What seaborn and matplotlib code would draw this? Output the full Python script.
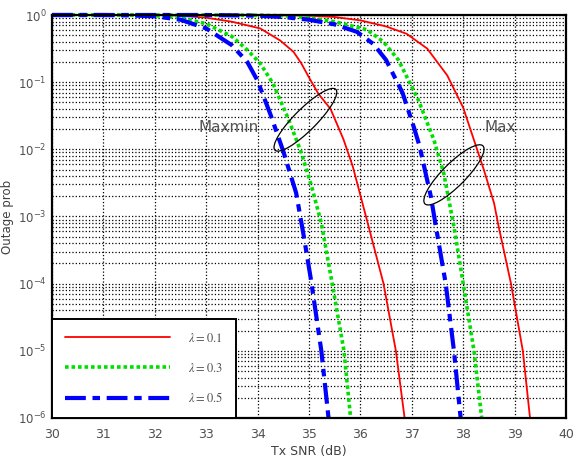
import numpy as np
import pandas as pd
import matplotlib
matplotlib.use("Agg")
import matplotlib.pyplot as plt
import seaborn as sns
from matplotlib.patches import Ellipse
from matplotlib.lines import Line2D
from matplotlib.ticker import FixedLocator, FuncFormatter
from matplotlib.transforms import ScaledTranslation

# outage curves: Tx SNR (dB) and log10(outage prob)
snr_maxmin_01 = [30, 32, 32.5, 33, 33.5, 34.05, 34.44, 34.7, 34.85, 35.0, 35.18, 35.42,
                 35.67, 35.85, 36.16, 36.45, 36.69, 36.86]
exp_maxmin_01 = [0, 0, -0.01, -0.04, -0.1, -0.2, -0.38, -0.55, -0.72, -0.93, -1.17, -1.4,
                 -1.85, -2.25, -3.15, -4.0, -5.0, -6.0]

snr_maxmin_03 = [30, 31.5, 32, 32.5, 33, 33.5, 33.8, 34.05, 34.3, 34.6, 34.85, 35.05,
                 35.24, 35.44, 35.68, 35.81]
exp_maxmin_03 = [0, 0, -0.01, -0.04, -0.13, -0.32, -0.52, -0.72, -1.02, -1.55, -2.05, -2.55,
                 -3.1, -3.95, -5.0, -6.0]

snr_maxmin_05 = [30, 31, 31.5, 32, 32.5, 33, 33.5, 33.8, 34.0, 34.25, 34.5, 34.75, 34.9,
                 35.04, 35.24, 35.38]
exp_maxmin_05 = [0, 0, -0.005, -0.02, -0.07, -0.2, -0.45, -0.7, -0.98, -1.48, -2.03, -2.65,
                 -3.3, -3.95, -5.0, -6.0]

snr_max_01 = [30, 34, 35, 35.5, 36, 36.5, 36.9, 37.3, 37.69, 38.0, 38.2, 38.4, 38.6, 38.69,
              38.93, 39.16, 39.3]
exp_max_01 = [0, 0, -0.01, -0.03, -0.08, -0.17, -0.28, -0.5, -0.9, -1.38, -1.84, -2.3, -2.8,
              -3.15, -4.0, -5.0, -6.0]

snr_max_03 = [30, 33.5, 34.5, 35, 35.5, 36.13, 36.45, 36.74, 37.13, 37.43, 37.62, 37.82,
              38.0, 38.21, 38.36]
exp_max_03 = [0, 0, -0.01, -0.04, -0.1, -0.22, -0.4, -0.67, -1.27, -1.86, -2.35, -3.15,
              -4.0, -5.0, -6.0]

snr_max_05 = [30, 33, 34, 34.5, 35, 35.5, 35.93, 36.25, 36.5, 36.82, 37.04, 37.15, 37.37,
              37.48, 37.66, 37.82, 37.95]
exp_max_05 = [0, 0, -0.01, -0.03, -0.07, -0.14, -0.25, -0.43, -0.67, -1.16, -1.67, -1.95,
              -2.7, -3.2, -4.0, -5.0, -6.0]

lambdas = [0.1, 0.3, 0.5]
legend_labels = [r"$\lambda = 0.1$", r"$\lambda = 0.3$", r"$\lambda = 0.5$"]
y_decades = [0, -1, -2, -3, -4, -5, -6]

curves = [
    ("Maxmin", 0.1, snr_maxmin_01, exp_maxmin_01),
    ("Maxmin", 0.3, snr_maxmin_03, exp_maxmin_03),
    ("Maxmin", 0.5, snr_maxmin_05, exp_maxmin_05),
    ("Max", 0.1, snr_max_01, exp_max_01),
    ("Max", 0.3, snr_max_03, exp_max_03),
    ("Max", 0.5, snr_max_05, exp_max_05),
]
frames = []
for scheme, lam, snr, ex in curves:
    frames.append(pd.DataFrame({"snr": snr, "outage": 10.0 ** np.array(ex),
                                "lam": lam, "scheme": scheme}))
df = pd.concat(frames, ignore_index=True)

styles = {
    0.1: dict(color="#ff0000", lw=1.3, dashes=None),
    0.3: dict(color="#00e000", lw=2.6, dashes=(1.0, 0.8)),
    0.5: dict(color="#0000ff", lw=3.0, dashes=(5.0, 1.6, 1.8, 1.6)),
}

sns.set_style("white")
plt.rcParams["font.family"] = ["DejaVu Sans"]
plt.rcParams["mathtext.fontset"] = "stix"

fig = plt.figure(figsize=(5.75, 4.62), dpi=100)
ax = fig.add_axes([52 / 575, 1 - 418 / 462, 514 / 575, 403 / 462])
ax.set_yscale("log")

for scheme in ["Maxmin", "Max"]:
    for lam in lambdas:
        sub = df[(df.scheme == scheme) & (df.lam == lam)]
        st = styles[lam]
        sns.lineplot(data=sub, x="snr", y="outage", ax=ax, color=st["color"],
                     lw=st["lw"], estimator=None, sort=False, legend=False)
        ln = ax.get_lines()[-1]
        if st["dashes"] is not None:
            ln.set_dashes(st["dashes"])
        ln.set_clip_on(False)

ax.set_xlim(30, 40)
ax.set_ylim(1e-6, 1)
ax.set_xticks(range(30, 41))
ax.yaxis.set_major_locator(FixedLocator([10.0 ** d for d in y_decades]))
ax.yaxis.set_major_formatter(FuncFormatter(
    lambda v, pos: r"$\mathregular{10^{%d}}$" % int(round(np.log10(v)))))
ax.grid(True, which="major", axis="both", ls=":", color="k", lw=0.9)
ax.grid(True, which="minor", axis="y", ls=":", color="k", lw=0.9)
ax.tick_params(axis="both", which="both", length=0, colors="#505050")
ax.tick_params(axis="x", labelsize=9, pad=7)
ax.tick_params(axis="y", labelsize=8.5, pad=4)
for sp in ax.spines.values():
    sp.set_color("black")
    sp.set_linewidth(1.6)

ax.set_xlabel("Tx SNR (dB)", fontsize=9, color="#404040", labelpad=3)
ax.set_ylabel("Outage prob", fontsize=8.5, color="#404040")
ax.yaxis.set_label_coords(-0.074, 0.5)

# ellipses around the curve groups
for cx, cy, w, h in [(34.93, 10 ** -1.56, 0.86, 0.22), (37.82, 10 ** -2.38, 0.82, 0.23)]:
    tr = fig.dpi_scale_trans + ScaledTranslation(cx, cy, ax.transData)
    ax.add_patch(Ellipse((0, 0), w, h, angle=45, transform=tr, fill=False,
                         ec="black", lw=0.9, zorder=5))

ax.text(33.43, 10 ** -1.68, "Maxmin", fontsize=11, color="#555555", ha="center", va="center")
ax.text(38.73, 10 ** -1.68, "Max", fontsize=11, color="#555555", ha="center", va="center")

handles = []
for lam in lambdas:
    st = styles[lam]
    h = Line2D([], [], color=st["color"], lw=st["lw"])
    if st["dashes"] is not None:
        h.set_dashes(st["dashes"])
    handles.append(h)
leg = ax.legend(handles, legend_labels, loc="lower left", borderaxespad=0,
                fontsize=9, handlelength=8.4, handletextpad=1.5, borderpad=1.0,
                labelspacing=1.35, fancybox=False, framealpha=1, edgecolor="black")
leg.get_frame().set_linewidth(1.4)
for t in leg.get_texts():
    t.set_color("#505050")

fig.savefig("out.png", dpi=100)
